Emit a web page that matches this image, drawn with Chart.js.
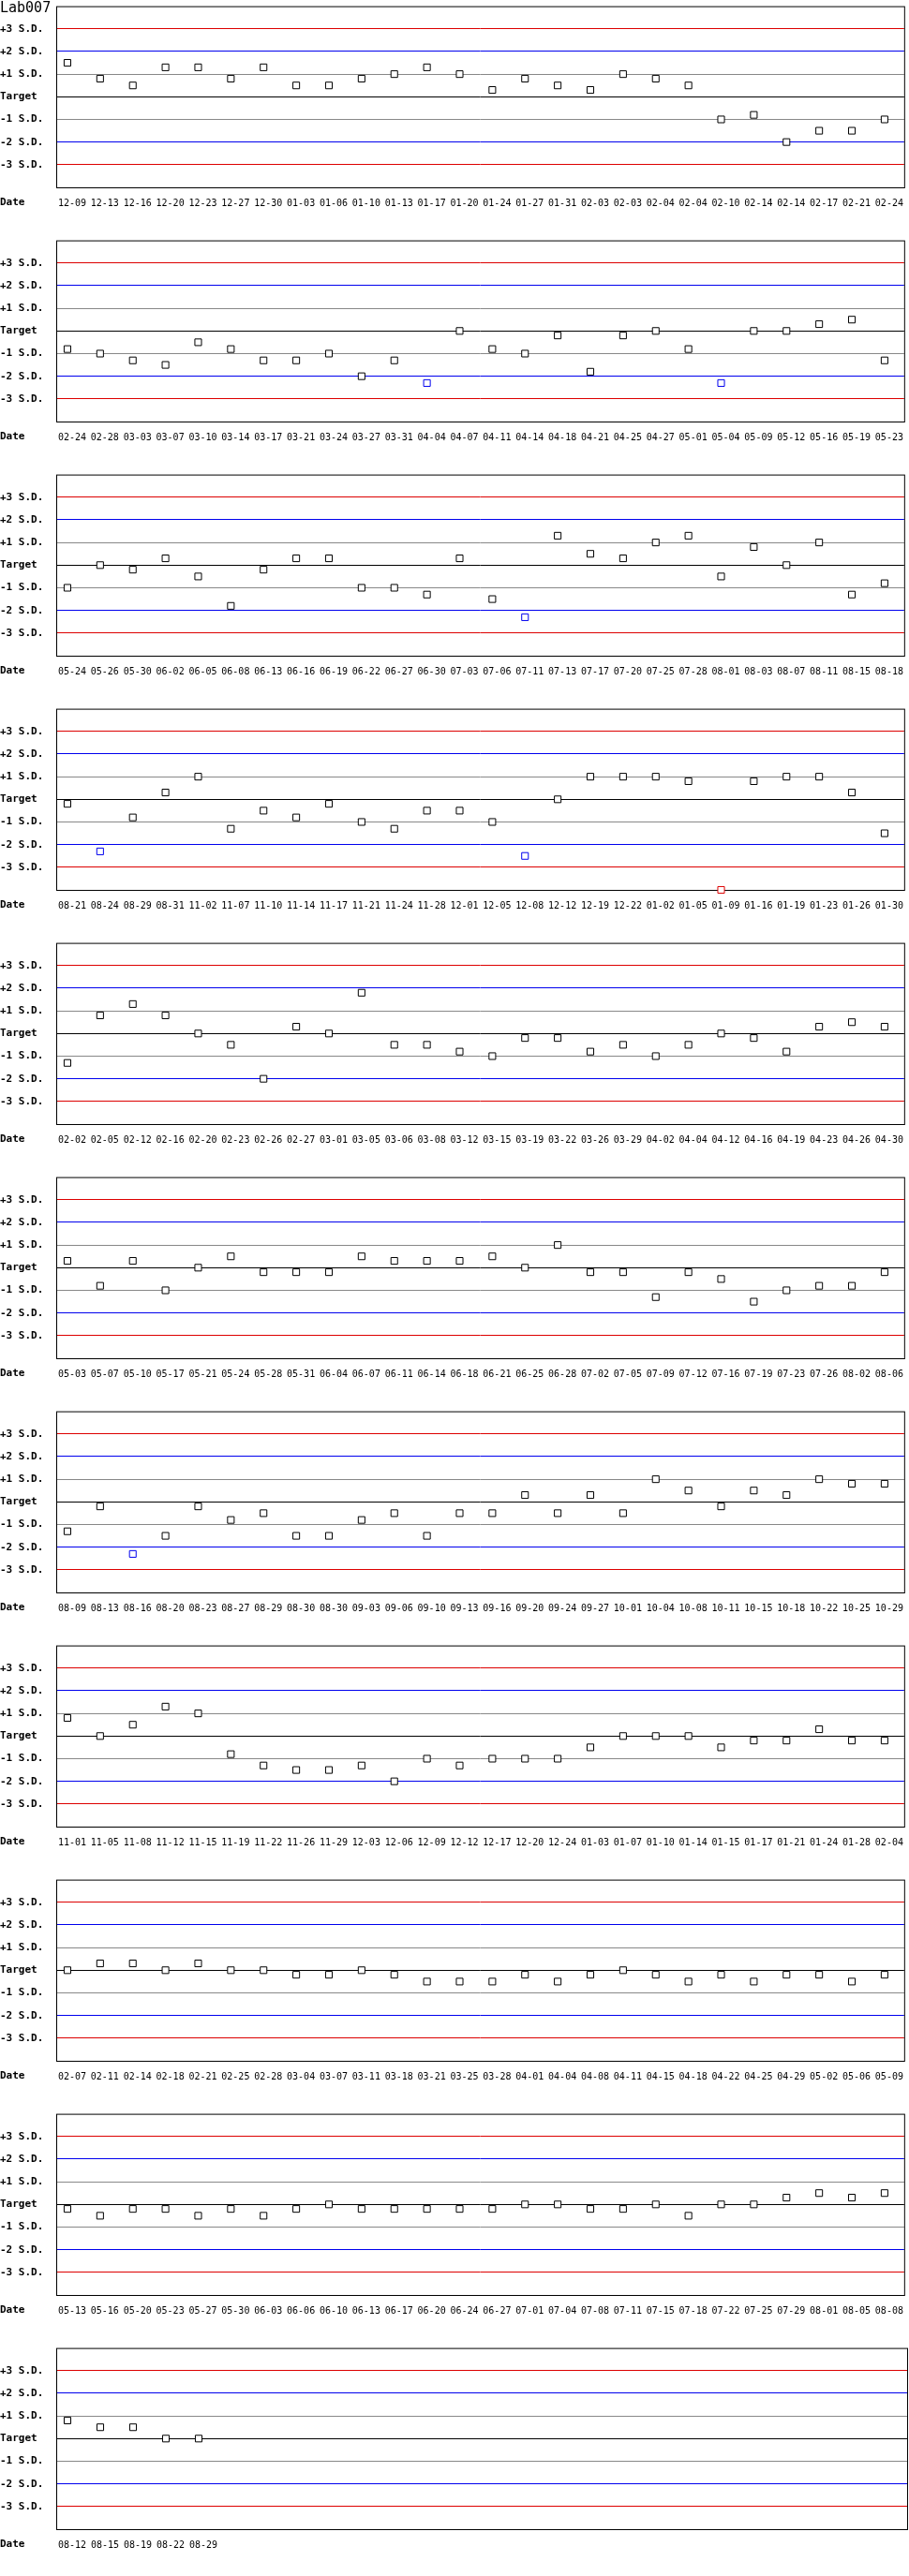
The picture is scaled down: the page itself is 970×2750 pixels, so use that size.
<!DOCTYPE html>
<html>
<head>
<meta charset="utf-8">
<title>Lab007</title>
<script src="https://cdn.jsdelivr.net/npm/chart.js@4.4.1/dist/chart.umd.min.js"></script>
<style>
    body { margin: 0; background: #fff; }
    canvas { display: block; }
</style>
</head>
<body>
<div id="graficos"></div>
<script>
const titulo = 'Lab007';
const sdTicks = [3, 2, 1, 0, -1, -2, -3];
const sdRotulos = ['+3 S.D.', '+2 S.D.', '+1 S.D.', 'Target', '-1 S.D.', '-2 S.D.', '-3 S.D.'];
const pontosPorPainel = 26;

const datas = [
    '12-09','12-13','12-16','12-20','12-23','12-27','12-30','01-03','01-06','01-10','01-13','01-17','01-20','01-24','01-27','01-31','02-03','02-03','02-04','02-04','02-10','02-14','02-14','02-17','02-21','02-24',
    '02-24','02-28','03-03','03-07','03-10','03-14','03-17','03-21','03-24','03-27','03-31','04-04','04-07','04-11','04-14','04-18','04-21','04-25','04-27','05-01','05-04','05-09','05-12','05-16','05-19','05-23',
    '05-24','05-26','05-30','06-02','06-05','06-08','06-13','06-16','06-19','06-22','06-27','06-30','07-03','07-06','07-11','07-13','07-17','07-20','07-25','07-28','08-01','08-03','08-07','08-11','08-15','08-18',
    '08-21','08-24','08-29','08-31','11-02','11-07','11-10','11-14','11-17','11-21','11-24','11-28','12-01','12-05','12-08','12-12','12-19','12-22','01-02','01-05','01-09','01-16','01-19','01-23','01-26','01-30',
    '02-02','02-05','02-12','02-16','02-20','02-23','02-26','02-27','03-01','03-05','03-06','03-08','03-12','03-15','03-19','03-22','03-26','03-29','04-02','04-04','04-12','04-16','04-19','04-23','04-26','04-30',
    '05-03','05-07','05-10','05-17','05-21','05-24','05-28','05-31','06-04','06-07','06-11','06-14','06-18','06-21','06-25','06-28','07-02','07-05','07-09','07-12','07-16','07-19','07-23','07-26','08-02','08-06',
    '08-09','08-13','08-16','08-20','08-23','08-27','08-29','08-30','08-30','09-03','09-06','09-10','09-13','09-16','09-20','09-24','09-27','10-01','10-04','10-08','10-11','10-15','10-18','10-22','10-25','10-29',
    '11-01','11-05','11-08','11-12','11-15','11-19','11-22','11-26','11-29','12-03','12-06','12-09','12-12','12-17','12-20','12-24','01-03','01-07','01-10','01-14','01-15','01-17','01-21','01-24','01-28','02-04',
    '02-07','02-11','02-14','02-18','02-21','02-25','02-28','03-04','03-07','03-11','03-18','03-21','03-25','03-28','04-01','04-04','04-08','04-11','04-15','04-18','04-22','04-25','04-29','05-02','05-06','05-09',
    '05-13','05-16','05-20','05-23','05-27','05-30','06-03','06-06','06-10','06-13','06-17','06-20','06-24','06-27','07-01','07-04','07-08','07-11','07-15','07-18','07-22','07-25','07-29','08-01','08-05','08-08',
    '08-12','08-15','08-19','08-22','08-29'
];

const valores = [
    1.5, 0.8, 0.5, 1.3, 1.3, 0.8, 1.3, 0.5, 0.5, 0.8, 1.0, 1.3, 1.0, 0.3, 0.8, 0.5, 0.3, 1.0, 0.8, 0.5, -1.0, -0.8, -2.0, -1.5, -1.5, -1.0,
    -0.8, -1.0, -1.3, -1.5, -0.5, -0.8, -1.3, -1.3, -1.0, -2.0, -1.3, -2.3, 0, -0.8, -1.0, -0.2, -1.8, -0.2, 0, -0.8, -2.3, 0, 0, 0.3, 0.5, -1.3,
    -1.0, 0, -0.2, 0.3, -0.5, -1.8, -0.2, 0.3, 0.3, -1.0, -1.0, -1.3, 0.3, -1.5, -2.3, 1.3, 0.5, 0.3, 1.0, 1.3, -0.5, 0.8, 0, 1.0, -1.3, -0.8,
    -0.2, -2.3, -0.8, 0.3, 1.0, -1.3, -0.5, -0.8, -0.2, -1.0, -1.3, -0.5, -0.5, -1.0, -2.5, 0, 1.0, 1.0, 1.0, 0.8, -4.0, 0.8, 1.0, 1.0, 0.3, -1.5,
    -1.3, 0.8, 1.3, 0.8, 0, -0.5, -2.0, 0.3, 0, 1.8, -0.5, -0.5, -0.8, -1.0, -0.2, -0.2, -0.8, -0.5, -1.0, -0.5, 0, -0.2, -0.8, 0.3, 0.5, 0.3,
    0.3, -0.8, 0.3, -1.0, 0, 0.5, -0.2, -0.2, -0.2, 0.5, 0.3, 0.3, 0.3, 0.5, 0, 1.0, -0.2, -0.2, -1.3, -0.2, -0.5, -1.5, -1.0, -0.8, -0.8, -0.2,
    -1.3, -0.2, -2.3, -1.5, -0.2, -0.8, -0.5, -1.5, -1.5, -0.8, -0.5, -1.5, -0.5, -0.5, 0.3, -0.5, 0.3, -0.5, 1.0, 0.5, -0.2, 0.5, 0.3, 1.0, 0.8, 0.8,
    0.8, 0, 0.5, 1.3, 1.0, -0.8, -1.3, -1.5, -1.5, -1.3, -2.0, -1.0, -1.3, -1.0, -1.0, -1.0, -0.5, 0, 0, 0, -0.5, -0.2, -0.2, 0.3, -0.2, -0.2,
    0, 0.3, 0.3, 0, 0.3, 0, 0, -0.2, -0.2, 0, -0.2, -0.5, -0.5, -0.5, -0.2, -0.5, -0.2, 0, -0.2, -0.5, -0.2, -0.5, -0.2, -0.2, -0.5, -0.2,
    -0.2, -0.5, -0.2, -0.2, -0.5, -0.2, -0.5, -0.2, 0, -0.2, -0.2, -0.2, -0.2, -0.2, 0, 0, -0.2, -0.2, 0, -0.5, 0, 0, 0.3, 0.5, 0.3, 0.5,
    0.8, 0.5, 0.5, 0, 0
];

// Cores das linhas de referência
function corLinha(v) {
    const a = Math.abs(v);
    if (a === 3) return '#dd0000';
    if (a === 2) return '#0000ee';
    if (a === 1) return '#888888';
    return '#000000';
}

// Pontos fora de 2 S.D. em azul, fora de 3 S.D. em vermelho
function corPonto(v) {
    const a = Math.abs(v);
    if (a > 3) return '#dd0000';
    if (a > 2) return '#0000ee';
    return '#000000';
}

const fonteEixo = { family: 'DejaVu Sans Mono', size: 11, weight: 'bold' };
const fonteData = { family: 'DejaVu Sans Mono', size: 10 };

// Moldura do gráfico, rótulo "Date" e título
const moldura = {
    id: 'moldura',
    beforeDatasetsDraw(chart) {
        const { ctx, chartArea: a } = chart;
        ctx.save();
        ctx.strokeStyle = '#000';
        ctx.lineWidth = 1;
        ctx.strokeRect(a.left + 0.5, a.top + 0.5, a.right - a.left, a.bottom - a.top);
        ctx.restore();
    },
    afterDraw(chart, args, opts) {
        const ctx = chart.ctx;
        ctx.save();
        ctx.fillStyle = '#000';
        ctx.textAlign = 'left';
        ctx.textBaseline = 'alphabetic';
        ctx.font = 'bold 11px "DejaVu Sans Mono"';
        ctx.fillText('Date', 0, 219);
        if (opts.titulo) {
            ctx.font = '15px "DejaVu Sans Mono"';
            ctx.fillText(opts.titulo, 0, 13);
        }
        ctx.restore();
    }
};

const graficos = document.getElementById('graficos');
const nPaineis = Math.ceil(datas.length / pontosPorPainel);

for (let p = 0; p < nPaineis; p++) {
    const rotulos = datas.slice(p * pontosPorPainel, (p + 1) * pontosPorPainel);
    const dados = valores.slice(p * pontosPorPainel, (p + 1) * pontosPorPainel);

    const canvas = document.createElement('canvas');
    canvas.width = 970;
    canvas.height = 250;
    graficos.appendChild(canvas);

    new Chart(canvas.getContext('2d'), {
        type: 'scatter',
        data: {
            datasets: [{
                data: dados.map((v, i) => ({ x: i, y: v })),
                pointStyle: 'rect',
                pointRadius: 5,
                pointBorderWidth: 1,
                pointBackgroundColor: '#fff',
                pointBorderColor: dados.map(corPonto),
                clip: false
            }]
        },
        options: {
            responsive: false,
            animation: false,
            events: [],
            layout: { autoPadding: false, padding: { right: 2 } },
            plugins: {
                legend: { display: false },
                tooltip: { enabled: false },
                moldura: { titulo: p === 0 ? titulo : '' }
            },
            scales: {
                x: {
                    type: 'linear',
                    min: -0.343,
                    max: 25.6,
                    afterBuildTicks: s => { s.ticks = rotulos.map((_, i) => ({ value: i })); },
                    afterFit: s => { s.height = 50; },
                    grid: { display: false, drawTicks: false },
                    border: { display: false },
                    ticks: {
                        autoSkip: false,
                        maxRotation: 0,
                        padding: 11,
                        labelOffset: 5,
                        color: '#000',
                        font: fonteData,
                        callback: v => rotulos[v]
                    }
                },
                y: {
                    min: -4,
                    max: 4,
                    afterBuildTicks: s => { s.ticks = sdTicks.map(v => ({ value: v })); },
                    afterFit: s => { s.width = 60; },
                    grid: { color: c => corLinha(c.tick.value), drawTicks: false, lineWidth: 1 },
                    border: { display: false },
                    ticks: {
                        crossAlign: 'far',
                        padding: 0,
                        color: '#000',
                        font: fonteEixo,
                        callback: v => sdRotulos[sdTicks.indexOf(v)]
                    }
                }
            }
        },
        plugins: [moldura]
    });
}
</script>
</body>
</html>
